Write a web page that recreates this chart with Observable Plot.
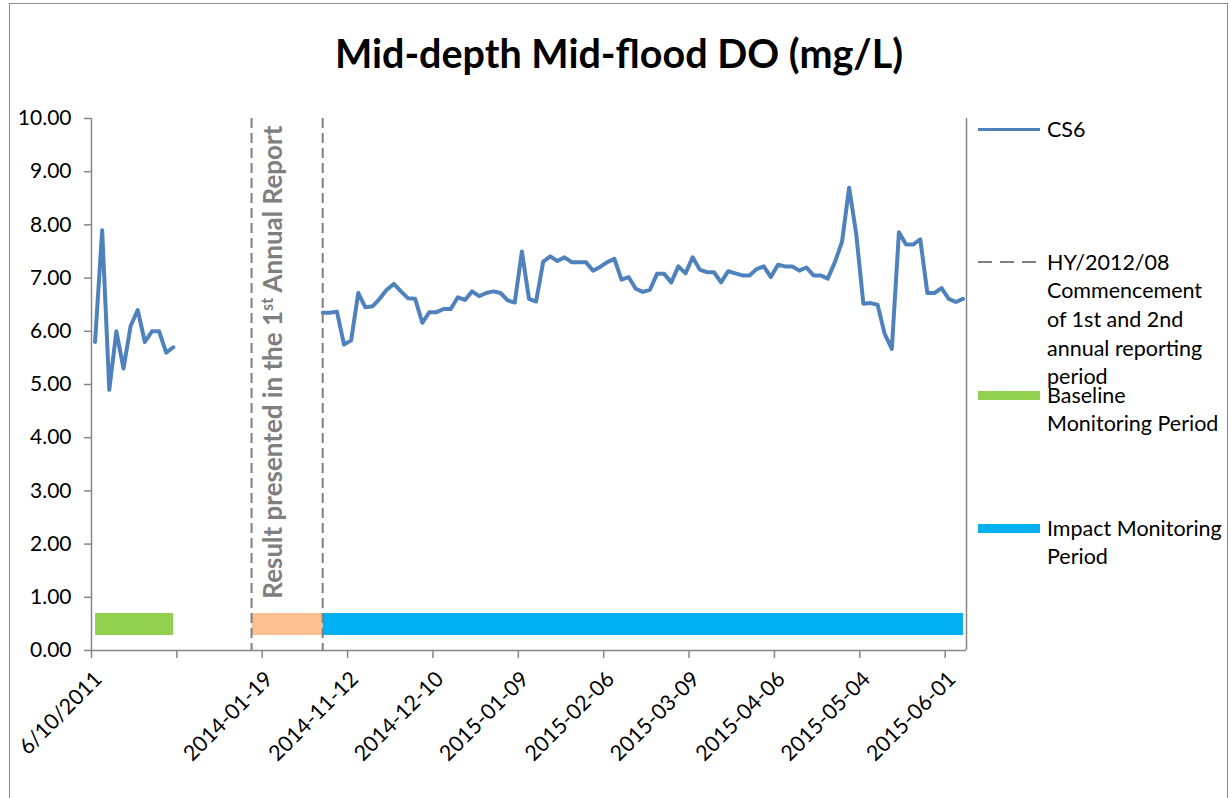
<!DOCTYPE html>
<html>
<head>
<meta charset="utf-8">
<script src="https://cdn.jsdelivr.net/npm/d3@7"></script>
<script src="https://cdn.jsdelivr.net/npm/@observablehq/plot@0.6"></script>
<style>
  html, body { margin: 0; padding: 0; background: #fff; }
  #wrap { position: relative; width: 1231px; height: 798px; overflow: hidden; font-family: Lato, "Open Sans", sans-serif; }
  #frame { position: absolute; left: 9px; top: 3px; width: 1219px; height: 820px; border: 1.5px solid #8c8c8c; box-sizing: border-box; }
  #title { position: absolute; left: 0; width: 1238px; top: 29px; text-align: center; font-size: 39.5px; font-weight: bold; color: #000; }
  #chart { position: absolute; left: 0; top: 0; }
  .leg { position: absolute; left: 1047px; font-size: 21.5px; line-height: 28.7px; color: #000; white-space: nowrap; }
  .sw { position: absolute; left: 978px; width: 62px; }
</style>
</head>
<body>
<div id="wrap">
  <div id="frame"></div>
  <div id="chart"></div>
  <div id="title">Mid-depth Mid-flood DO (mg/L)</div>
  <div id="legend"></div>
</div>
<script>
// ---------------- data ----------------
const nCategories = 123;
const baselineStart = 0;
const baselineDO = [5.8, 7.9, 4.9, 6.0, 5.3, 6.1, 6.4, 5.8, 6.0, 6.0, 5.6, 5.7];
const impactStart = 32;
const impactDO = [
  6.35, 6.35, 6.37, 5.75, 5.83, 6.72, 6.45, 6.47, 6.61, 6.78,
  6.89, 6.75, 6.62, 6.61, 6.16, 6.36, 6.36, 6.42, 6.42, 6.64,
  6.59, 6.75, 6.66, 6.72, 6.75, 6.72, 6.58, 6.54, 7.50, 6.61,
  6.56, 7.31, 7.41, 7.32, 7.39, 7.30, 7.30, 7.30, 7.14, 7.21,
  7.30, 7.36, 6.97, 7.02, 6.80, 6.74, 6.78, 7.08, 7.08, 6.92,
  7.22, 7.09, 7.39, 7.16, 7.11, 7.11, 6.92, 7.13, 7.09, 7.05,
  7.05, 7.17, 7.22, 7.02, 7.25, 7.22, 7.22, 7.14, 7.20, 7.05,
  7.05, 6.99, 7.30, 7.68, 8.70, 7.83, 6.52, 6.53, 6.50, 5.95,
  5.67, 7.86, 7.63, 7.63, 7.73, 6.72, 6.72, 6.81, 6.61, 6.55,
  6.61
];
const tickEvery = 12;
const tickLabels = ["6/10/2011", "", "2014-01-19", "2014-11-12", "2014-12-10", "2015-01-09",
                    "2015-02-06", "2015-03-09", "2015-04-06", "2015-05-04", "2015-06-01"];
const yTicks = [0, 1, 2, 3, 4, 5, 6, 7, 8, 9, 10];
const reportLines = [22, 32];                 // category indices of the dashed lines
const periodNames = ["Baseline", "Report", "Impact"];
const periodStart = [0, 22, 32];
const periodEnd = [11, 32, 122];
const periodLevel = 0.5;
const annotation = {x: 25.6, y: 5.42, text: "Result presented in the 1st Annual Report"};

// ---------------- build ----------------
const lineRows = [
  ...baselineDO.map((v, k) => ({c: baselineStart + k + 0.5, v, seg: "baseline"})),
  ...impactDO.map((v, k) => ({c: impactStart + k + 0.5, v, seg: "impact"}))
];
const periods = periodNames.map((name, k) => ({name, x1: periodStart[k] + 0.5, x2: periodEnd[k] + 0.5, y: periodLevel}));
const ticks = tickLabels.map((_, k) => k * tickEvery);

const W = 1231, H = 798;
const axisGray = "#868686";
const chart = Plot.plot({
  width: W, height: H,
  marginLeft: 91, marginRight: W - 966, marginTop: 118, marginBottom: H - 650,
  style: {fontFamily: "Lato, 'Open Sans', sans-serif", fontSize: "21px", color: "#000", background: "transparent", overflow: "visible"},
  x: {domain: [0, nCategories], axis: null},
  y: {domain: [0, 10], axis: null},
  color: {domain: periodNames, range: ["#92D050", "#FAC090", "#00B0F0"]},
  marks: [
    Plot.link(periods, {x1: "x1", x2: "x2", y1: "y", y2: "y", stroke: "name", strokeWidth: 22}),
    Plot.ruleX(reportLines.map(c => c + 0.5), {stroke: "#7f7f7f", strokeWidth: 2, strokeDasharray: "10,5"}),
    Plot.line(lineRows, {x: "c", y: "v", z: "seg", stroke: "#4F81BD", strokeWidth: 4, strokeLinejoin: "round"}),
    Plot.ruleX([0], {stroke: axisGray, strokeWidth: 1.5}),
    Plot.ruleX([nCategories], {stroke: axisGray, strokeWidth: 1.5}),
    Plot.ruleY([0], {stroke: axisGray, strokeWidth: 1.5}),
    Plot.axisY({ticks: yTicks, tickFormat: d3.format(".2f"), tickSize: 7, tickPadding: 13, stroke: axisGray, strokeWidth: 1.5}),
    Plot.axisX({ticks, tickFormat: () => "", tickSize: 8, stroke: axisGray, strokeWidth: 1.5}),
    Plot.axisX({ticks, tickFormat: d => tickLabels[ticks.indexOf(d)], tickSize: 0, tickPadding: 25, dx: 7, tickRotate: -45, fontSize: 21.5}),
    Plot.text([annotation], {x: "x", y: "y", text: "text", rotate: -90, fill: "#7f7f7f", fontWeight: "bold", fontSize: 26})
  ]
});
document.getElementById("chart").appendChild(chart);

// superscript "st" in the annotation
d3.select(chart).selectAll("text").each(function () {
  const t = d3.select(this);
  const s = t.text();
  if (s !== annotation.text) return;
  const i = s.indexOf("1st");
  t.text(null);
  t.append("tspan").text(s.slice(0, i + 1));
  t.append("tspan").attr("font-size", "0.62em").attr("dy", "-0.55em").text("st");
  t.append("tspan").attr("dy", "0.341em").text(s.slice(i + 3));
});

// ---------------- legend ----------------
const legendItems = [
  {lines: ["CS6"], top: 129, kind: "line"},
  {lines: ["HY/2012/08", "Commencement", "of 1st and 2nd", "annual reporting", "period"], top: 262, kind: "dash"},
  {lines: ["Baseline", "Monitoring Period"], top: 395, kind: "Baseline"},
  {lines: ["Impact Monitoring", "Period"], top: 528, kind: "Impact"}
];
const legend = document.getElementById("legend");
const colorOf = {Baseline: "#92D050", Impact: "#00B0F0"};
for (const it of legendItems) {
  const t = document.createElement("div");
  t.className = "leg";
  t.style.top = (it.top - 14.35) + "px";
  t.innerHTML = it.lines.join("<br>");
  legend.appendChild(t);
  const sw = document.createElement("div");
  sw.className = "sw";
  if (it.kind === "line") {
    sw.style.top = (it.top - 1.5) + "px"; sw.style.height = "3px"; sw.style.background = "#4F81BD";
  } else if (it.kind === "dash") {
    sw.style.top = (it.top - 1) + "px";
    sw.style.height = "2px";
    sw.style.background = "repeating-linear-gradient(90deg, #7f7f7f 0 14px, transparent 14px 22px)";
  } else {
    sw.style.top = (it.top - 4.5) + "px"; sw.style.height = "9px"; sw.style.background = colorOf[it.kind];
  }
  legend.appendChild(sw);
}
</script>
</body>
</html>
